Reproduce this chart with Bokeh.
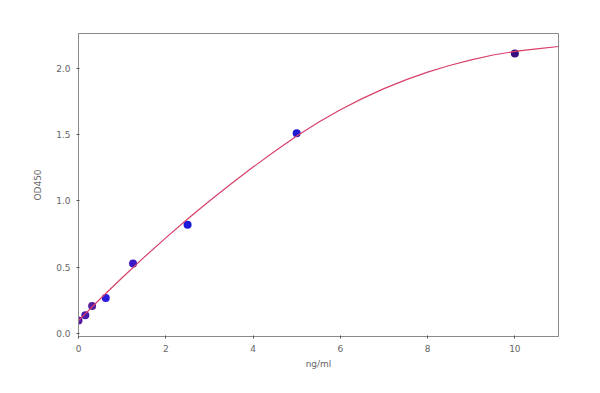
from bokeh.plotting import figure
from bokeh.models import FixedTicker, Range1d, NumeralTickFormatter
from bokeh.embed import file_html
from bokeh.resources import INLINE

conc = [0.0, 0.156, 0.3125, 0.625, 1.25, 2.5, 5.0, 10.0]
od450 = [0.10, 0.14, 0.21, 0.27, 0.53, 0.82, 1.51, 2.11]

curve_x = [0, 0.5, 1, 1.5, 2, 2.5, 3, 3.5, 4, 4.5, 5, 5.5, 6, 6.5, 7, 7.5, 8, 8.5, 9, 9.5, 10, 10.5, 11]
curve_y = [0.100, 0.264, 0.422, 0.575, 0.722, 0.864, 1.000, 1.130, 1.255, 1.374, 1.488, 1.592,
           1.686, 1.770, 1.845, 1.911, 1.969, 2.019, 2.062, 2.098, 2.125, 2.145, 2.162]

x_ticks = [0, 2, 4, 6, 8, 10]
y_ticks = [0.0, 0.5, 1.0, 1.5, 2.0]

dot_colors = ["#5a1aa8", "#4a1aa8", "#5520a0", "#2a1ae0", "#3a18c8", "#1a1ad8", "#1f1ad0", "#3a1080"]

p = figure(width=600, height=393, output_backend="svg", toolbar_location=None,
           x_range=Range1d(0, 11), y_range=Range1d(-0.02, 2.26),
           min_border_left=78, min_border_right=42, min_border_top=33, min_border_bottom=57)
p.background_fill_color = "white"
p.border_fill_color = "white"
p.outline_line_color = "#8a8a8a"
p.xgrid.visible = False
p.ygrid.visible = False

p.scatter(conc, od450, size=8, color=dot_colors, line_color=None)
p.line(curve_x, curve_y, line_color="#d8406a", line_width=1.2)

for ax in (p.xaxis[0], p.yaxis[0]):
    ax.axis_line_color = "#8a8a8a"
    ax.major_tick_line_color = "#555555"
    ax.major_tick_out = 2
    ax.major_tick_in = 1
    ax.minor_tick_line_color = None
    ax.major_label_text_font = "DejaVu Sans"
    ax.major_label_text_font_size = "9px"
    ax.major_label_text_color = "#666666"
    ax.axis_label_text_font = "DejaVu Sans"
    ax.axis_label_text_font_size = "9px"
    ax.axis_label_text_font_style = "normal"
    ax.axis_label_text_color = "#666666"

p.xaxis.ticker = FixedTicker(ticks=x_ticks)
p.yaxis.ticker = FixedTicker(ticks=y_ticks)
p.yaxis.formatter = NumeralTickFormatter(format="0.0")
p.xaxis.axis_label = "ng/ml"
p.yaxis.axis_label = "OD450"
p.xaxis.major_label_standoff = 6
p.yaxis.major_label_standoff = 6
p.xaxis.axis_label_standoff = 4
p.yaxis.axis_label_standoff = 10

open("out.html", "w").write(file_html(p, INLINE))
